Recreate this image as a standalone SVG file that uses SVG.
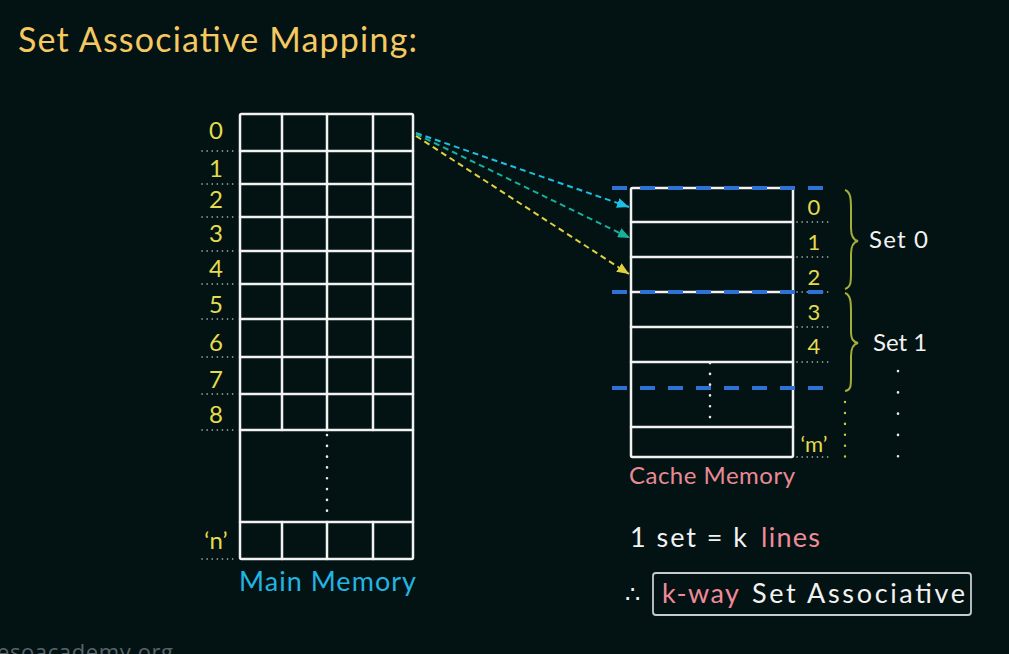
<svg xmlns="http://www.w3.org/2000/svg" width="1009" height="654" viewBox="0 0 1009 654">
<defs>
<style>
.t{font-family:Lato,"Liberation Sans",sans-serif;}
.yl{fill:#e3dc4e;text-anchor:middle;font-family:Lato,"Liberation Sans",sans-serif;}
.wl{fill:#f2f2f2;}
.grid{stroke:#f2f2f2;stroke-width:2.5;fill:none;stroke-linecap:round;stroke-linejoin:round;}
.dotl{stroke:#b8c2c2;stroke-width:1.6;stroke-dasharray:0.1 5;stroke-linecap:round;}
.blue{stroke:#2f72d6;stroke-width:4;stroke-dasharray:15 13;}
.brace{stroke:#a4ae3a;stroke-width:2;fill:none;}
.arr{stroke-width:2;stroke-dasharray:6 4;fill:none;}
</style>
<marker id="mc" viewBox="0 0 12 10" refX="12" refY="5" markerWidth="12" markerHeight="10" markerUnits="userSpaceOnUse" orient="auto"><path d="M0,0 L12,5 L0,10 Z" fill="#1cc0e4"/></marker>
<marker id="mt" viewBox="0 0 12 10" refX="12" refY="5" markerWidth="12" markerHeight="10" markerUnits="userSpaceOnUse" orient="auto"><path d="M0,0 L12,5 L0,10 Z" fill="#17b09c"/></marker>
<marker id="my" viewBox="0 0 12 10" refX="12" refY="5" markerWidth="12" markerHeight="10" markerUnits="userSpaceOnUse" orient="auto"><path d="M0,0 L12,5 L0,10 Z" fill="#e0d040"/></marker>
</defs>
<rect width="1009" height="654" fill="#031313"/>

<text class="t" x="18" y="52" font-size="34" fill="#f5c861" textLength="399">Set Associative Mapping:</text>

<g id="main-memory">
<rect class="grid" x="240" y="114" width="173" height="445" rx="1.5"/>
<path class="grid" d="M240,151H413M240,184H413M240,217H413M240,251H413M240,284H413M240,319H413M240,357H413M240,394H413M240,430H413M240,522H413"/>
<path class="grid" d="M282,114V430M327,114V430M373,114V430M282,522V559M327,522V559M373,522V559"/>
<path d="M327,435V512" style="stroke:#e8eaea;stroke-width:2.6;stroke-dasharray:0.1 10.7;stroke-linecap:round"/>
<path class="dotl" d="M202,151H237M202,184H237M202,217H237M202,251H237M202,284H237M202,319H237M202,357H237M202,394H237M202,430H237M202,559H237"/>
<g font-size="24">
<text class="yl" x="216" y="139">0</text>
<text class="yl" x="216" y="177">1</text>
<text class="yl" x="216" y="208">2</text>
<text class="yl" x="216" y="242">3</text>
<text class="yl" x="216" y="277">4</text>
<text class="yl" x="216" y="313">5</text>
<text class="yl" x="216" y="351">6</text>
<text class="yl" x="216" y="388">7</text>
<text class="yl" x="216" y="423">8</text>
<text class="yl" x="216" y="549">‘n’</text>
</g>
<text class="t" x="239" y="591" font-size="27" fill="#22b5e3" textLength="177">Main Memory</text>
</g>

<g id="cache-memory">
<rect class="grid" x="631" y="188" width="162" height="269" rx="1.5"/>
<path class="grid" d="M631,222H793M631,257H793M631,292H793M631,327H793M631,362H793M631,427H793"/>
<path d="M710,363V420" style="stroke:#e8eaea;stroke-width:2.6;stroke-dasharray:0.1 10.7;stroke-linecap:round"/>
<path class="dotl" d="M797,222H831M797,257H831M797,292H831M797,327H831M797,362H831M797,457H831"/>
<path class="blue" d="M612,188H823M612,292H823M612,388H823"/>
<g font-size="22">
<text class="yl" x="814" y="215">0</text>
<text class="yl" x="814" y="250">1</text>
<text class="yl" x="814" y="285">2</text>
<text class="yl" x="814" y="320">3</text>
<text class="yl" x="814" y="354">4</text>
<text class="yl" x="814" y="452">‘m’</text>
</g>
<text class="t" x="629" y="484" font-size="24" fill="#e88a96" textLength="166">Cache Memory</text>
</g>

<g id="set0">
<path class="brace" d="M845,190 C851,192 851,200 851,210 L851,228 C851,236 853,240 858,241 C853,242 851,246 851,254 L851,272 C851,282 851,287 845,289"/>
<text class="t wl" x="869" y="248" font-size="24" textLength="59">Set 0</text>
</g>
<g id="set1">
<path class="brace" d="M845,293 C851,295 851,303 851,313 L851,331 C851,339 853,342 858,343 C853,344 851,348 851,356 L851,376 C851,386 851,390 845,391"/>
<text class="t wl" x="873" y="351" font-size="24">Set 1</text>
<path d="M898,371V460" style="stroke:#e8eaea;stroke-width:2.6;stroke-dasharray:0.1 21.2;stroke-linecap:round"/>
<path d="M845,402V460" style="stroke:#c8c840;stroke-width:2.4;stroke-dasharray:0.1 10.8;stroke-linecap:round"/>
</g>

<g id="connectors">
<path class="arr" stroke="#1cc0e4" d="M416,133 L629,207" marker-end="url(#mc)"/>
<path class="arr" stroke="#17b09c" d="M416,134 L630,238" marker-end="url(#mt)"/>
<path class="arr" stroke="#e0d040" d="M416,136 L629,274" marker-end="url(#my)"/>
</g>

<g id="formula">
<text class="t wl" x="630" y="547" font-size="27" textLength="117">1 set = k</text>
<text class="t" x="761" y="547" font-size="27" fill="#f08a9a" textLength="59">lines</text>
<text class="t wl" x="625" y="603" font-size="24">∴</text>
<rect x="653" y="573" width="318" height="42" rx="3" fill="none" stroke="#c4cccc" stroke-width="1.8"/>
<text class="t" x="662" y="603" font-size="27" fill="#f08a9a" textLength="77">k-way</text>
<text class="t wl" x="752" y="603" font-size="27" textLength="213">Set Associative</text>
</g>

<text x="-3" y="660" font-family="'Open Sans',sans-serif" font-size="22" fill="#59646a" textLength="176">esoacademy.org</text>
</svg>
